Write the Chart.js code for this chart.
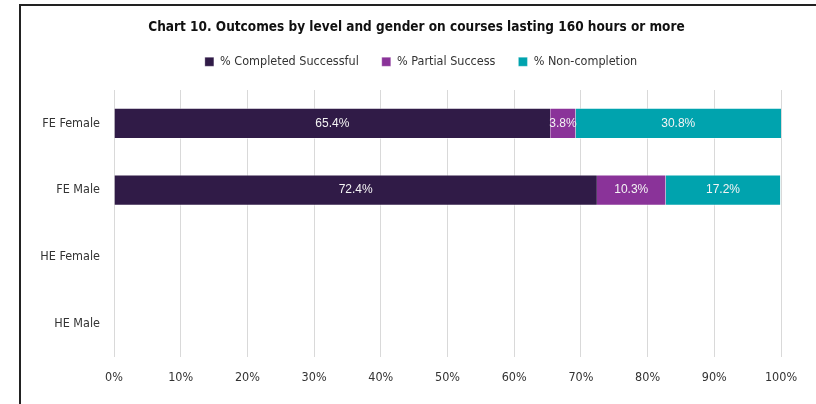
<!DOCTYPE html>
<html>
<head>
<meta charset="utf-8">
<script src="https://cdn.jsdelivr.net/npm/chart.js@4.4.1/dist/chart.umd.min.js"></script>
<style>
    body { margin: 0; background: #fff; }
    #frame {
        position: absolute; left: 19px; top: 4px; width: 795px; height: 398px;
        border-left: 2px solid #222; border-top: 2px solid #222;
    }
    #chart { display: block; }
</style>
</head>
<body>
<div id="frame"><canvas id="chart" width="795" height="398"></canvas></div>
<script>
// categorias y series
const categorias = ['FE Female', 'FE Male', 'HE Female', 'HE Male'];
const completado = [65.4, 72.4, null, null];
const parcial = [3.8, 10.3, null, null];
const noCompletado = [30.8, 17.2, null, null];
const ticksX = [0, 10, 20, 30, 40, 50, 60, 70, 80, 90, 100];

const narrow = "'Liberation Sans Narrow', 'DejaVu Sans Condensed', sans-serif";

// etiquetas dentro de las barras
const etiquetasBarras = {
    id: 'etiquetasBarras',
    afterDatasetsDraw(chart) {
        const ctx = chart.ctx;
        ctx.save();
        ctx.font = "12px 'Liberation Sans', Arial, sans-serif";
        ctx.fillStyle = '#f4f4f4';
        ctx.textAlign = 'center';
        ctx.textBaseline = 'middle';
        chart.data.datasets.forEach((ds, i) => {
            const meta = chart.getDatasetMeta(i);
            meta.data.forEach((bar, j) => {
                const v = ds.data[j];
                if (v === null || v === undefined) return;
                const p = bar.getProps(['x', 'y', 'base'], true);
                ctx.fillText(v.toFixed(1) + '%', (p.x + p.base) / 2, p.y);
            });
        });
        ctx.restore();
    }
};

// espacio bajo la leyenda y centrado del titulo / leyenda sobre toda la figura
const ajusteCabecera = {
    id: 'ajusteCabecera',
    afterInit(chart) {
        const lg = chart.legend;
        const fit = lg.fit;
        lg.fit = function () {
            fit.call(this);
            this.height = 57.5;
        };
        const desplazar = (box, dx) => {
            const draw = box.draw;
            box.draw = function () {
                this.ctx.save();
                this.ctx.translate(dx, 0);
                draw.apply(this, arguments);
                this.ctx.restore();
            };
        };
        desplazar(chart.titleBlock, 15.5);
        desplazar(lg, 20);
    }
};

new Chart(document.getElementById('chart'), {
    type: 'bar',
    data: {
        labels: categorias,
        datasets: [
            { label: '% Completed Successful', data: completado, backgroundColor: '#301B47' },
            { label: '% Partial Success', data: parcial, backgroundColor: '#8A3399' },
            { label: '% Non-completion', data: noCompletado, backgroundColor: '#00A3AE' },
        ],
    },
    options: {
        indexAxis: 'y',
        responsive: false,
        animation: false,
        datasets: {
            bar: {
                categoryPercentage: 1,
                barPercentage: 0.47,
                borderWidth: { top: 1, bottom: 1 },
                borderColor: 'rgba(255,255,255,0.55)',
                borderSkipped: false,
            },
        },
        layout: { padding: { top: 0, right: 35, bottom: 0, left: 0 } },
        plugins: {
            title: {
                display: true,
                text: 'Chart 10. Outcomes by level and gender on courses lasting 160 hours or more',
                color: '#111',
                font: { family: narrow, size: 13.5, weight: 'bold', lineHeight: 1 },
                padding: { top: 15, bottom: -2 },
            },
            legend: {
                display: true,
                labels: {
                    color: '#333',
                    font: { family: narrow, size: 12.5 },
                    boxWidth: 9,
                    boxHeight: 9,
                    padding: 23,
                },
            },
            tooltip: { enabled: false },
        },
        scales: {
            x: {
                stacked: true,
                min: 0,
                max: 100,
                afterBuildTicks(axis) {
                    axis.ticks = ticksX.map(v => ({ value: v }));
                },
                afterFit(axis) { axis.height = 47; },
                ticks: {
                    color: '#333',
                    font: { family: narrow, size: 12.5 },
                    padding: 13,
                    callback: (v) => v + '%',
                },
                grid: { color: '#d9d9d9', drawTicks: false },
                border: { display: false },
            },
            y: {
                stacked: true,
                afterFit(axis) { axis.width = 93; },
                ticks: {
                    color: '#333',
                    font: { family: narrow, size: 12.5 },
                    padding: 6,
                },
                grid: { display: false },
                border: { display: false },
            },
        },
    },
    plugins: [etiquetasBarras, ajusteCabecera],
});
</script>
</body>
</html>
